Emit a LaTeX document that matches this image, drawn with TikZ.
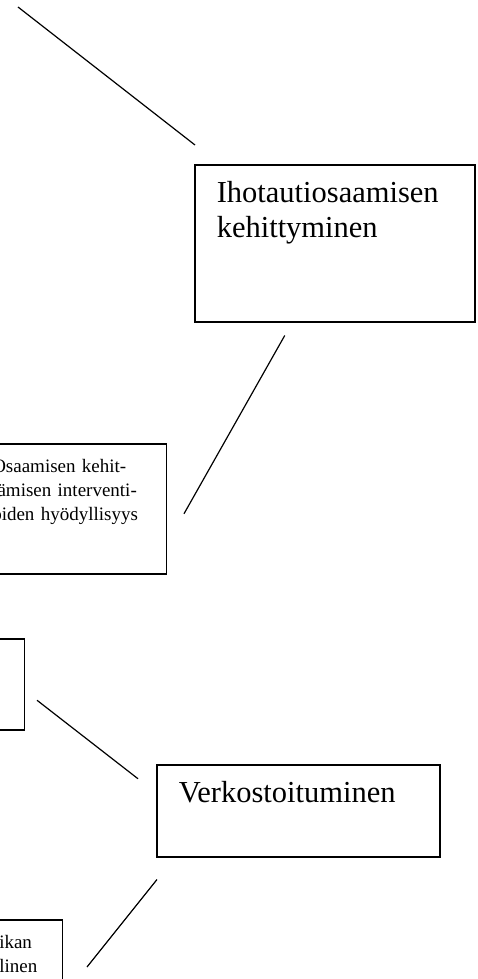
\documentclass[tikz,border=0pt]{standalone}
\usepackage{fontspec}
\setmainfont{Liberation Serif}
\usetikzlibrary{calc}

\begin{document}
\begin{tikzpicture}[x=1pt,y=-1pt,
		laatikko/.style={draw,line width=1.5pt,align=left,text height=21pt,inner xsep=22pt,inner ysep=17pt,font=\fontsize{30.5}{35}\selectfont},
		pieni/.style={draw,line width=1.5pt,align=left,text height=14pt,inner xsep=10pt,inner ysep=15pt,font=\fontsize{19}{24}\selectfont},
		viiva/.style={line width=1.2pt}]
				\useasboundingbox (0,0) rectangle (478,979);
				\clip (0,0) rectangle (478,979);
				\node[laatikko,anchor=north west,text width=236pt,text depth=102pt] (I) at (194,164) {Ihotautiosaamisen\\kehittyminen};
				\node[pieni,anchor=north east,text width=164pt,text depth=86pt] (O) at (167,443) {Osaamisen kehit-\\tämisen interventi-\\oiden hyödyllisyys};
				\node[draw,line width=1.5pt,anchor=north east,minimum width=150pt,minimum height=91pt,inner sep=0pt] (L) at (25,638) {};
				\node[laatikko,anchor=north west,text width=239pt,text depth=37pt] (V) at (156,764) {Verkostoituminen};
				\node[pieni,anchor=north east,text width=53pt,text depth=60pt] (K) at (63,919) {ikan\\linen};
				\coordinate (A) at (18,7);
				\coordinate (B) at ($(I.north west)+(1,-19)$);
				\coordinate (C) at ($(I.south)+(-50,13)$);
				\coordinate (D) at ($(O.east)+(17,5)$);
				\coordinate (E) at ($(L.east)+(12,16)$);
				\coordinate (F) at ($(V.west)+(-18,-32)$);
				\coordinate (G) at ($(V.south west)+(1,22)$);
				\coordinate (H) at ($(K.north east)+(24,48)$);
				\draw[viiva] (A) -- (B);
				\draw[viiva] (C) -- (D);
				\draw[viiva] (E) -- (F);
				\draw[viiva] (G) -- (H);
			\end{tikzpicture}
\end{document}
